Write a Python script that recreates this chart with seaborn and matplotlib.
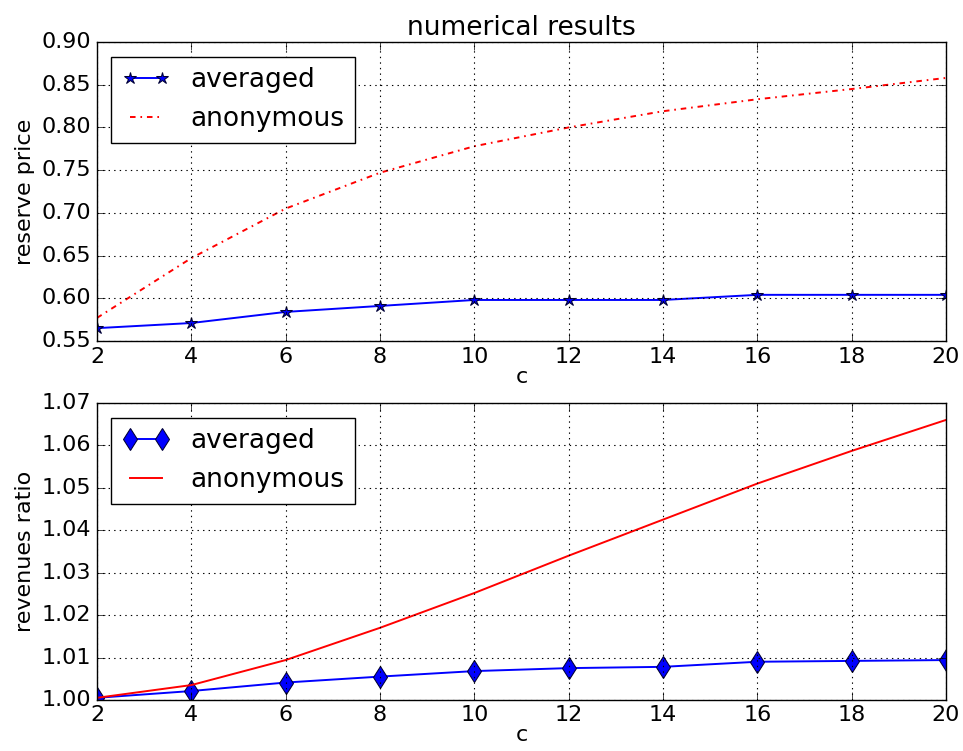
import numpy as np
import pandas as pd
import matplotlib
matplotlib.use('Agg')
import matplotlib.pyplot as plt
import seaborn as sns

# data
c = [2, 4, 6, 8, 10, 12, 14, 16, 18, 20]
price_averaged = [0.565, 0.571, 0.584, 0.591, 0.598, 0.598, 0.598, 0.604, 0.604, 0.604]
price_anonymous = [0.577, 0.647, 0.705, 0.747, 0.778, 0.800, 0.819, 0.833, 0.845, 0.858]
ratio_averaged = [1.0005, 1.0021, 1.0041, 1.0055, 1.0068, 1.0075, 1.0078, 1.0090, 1.0092, 1.0094]
ratio_anonymous = [1.0005, 1.0035, 1.0094, 1.0170, 1.0252, 1.0340, 1.0425, 1.0510, 1.0587, 1.0660]

plt.style.use('classic')
plt.rcParams['font.family'] = ['DejaVu Sans']
plt.rcParams['xtick.major.size'] = 5.5
plt.rcParams['ytick.major.size'] = 5.5

fig = plt.figure(figsize=(9.63, 7.51), dpi=100, facecolor='white')
ax1 = fig.add_axes([0.1007, 0.546, 0.8816, 0.398])
ax2 = fig.add_axes([0.1007, 0.068, 0.8816, 0.3954])

# top panel: reserve price
sns.lineplot(x=c, y=price_averaged, ax=ax1, color='b', marker='*', markersize=9, linewidth=1.4,
             markerfacecolor='b', markeredgecolor='#000033', label='averaged')
sns.lineplot(x=c, y=price_anonymous, ax=ax1, color='r', linewidth=1.4,
             dashes=(4, 3.5, 1.2, 3.5), label='anonymous')
ax1.set_xlim(2, 20)
ax1.set_ylim(0.55, 0.90)
ax1.set_xticks(range(2, 21, 2))
ax1.set_yticks(np.arange(0.55, 0.901, 0.05))
ax1.set_xlabel('c', fontsize=16, labelpad=0)
ax1.set_ylabel('reserve price', fontsize=16)
ax1.set_title('numerical results', fontsize=19)
ax1.grid(True, color='k', linestyle=(0, (1, 3)), linewidth=0.8)
ax1.legend(loc='upper left', fontsize=19, numpoints=2, borderaxespad=0.55, handlelength=1.8)

# bottom panel: revenues ratio
sns.lineplot(x=c, y=ratio_averaged, ax=ax2, color='b', marker='d', markersize=11.5, linewidth=1.4,
             markerfacecolor='b', markeredgecolor='#000033', label='averaged')
sns.lineplot(x=c, y=ratio_anonymous, ax=ax2, color='r', linestyle='-', linewidth=1.4,
             label='anonymous')
ax2.set_xlim(2, 20)
ax2.set_ylim(1.00, 1.07)
ax2.set_xticks(range(2, 21, 2))
ax2.set_yticks(np.arange(1.00, 1.0701, 0.01))
ax2.set_xlabel('c', fontsize=16, labelpad=0)
ax2.set_ylabel('revenues ratio', fontsize=16)
ax2.grid(True, color='k', linestyle=(0, (1, 3)), linewidth=0.8)
ax2.legend(loc='upper left', fontsize=19, numpoints=2, borderaxespad=0.55, handlelength=1.8)

for ax in (ax1, ax2):
    ax.tick_params(labelsize=16)
    ax.yaxis.set_major_formatter(matplotlib.ticker.FormatStrFormatter('%.2f'))

plt.savefig('out.png', dpi=100, facecolor='white')
